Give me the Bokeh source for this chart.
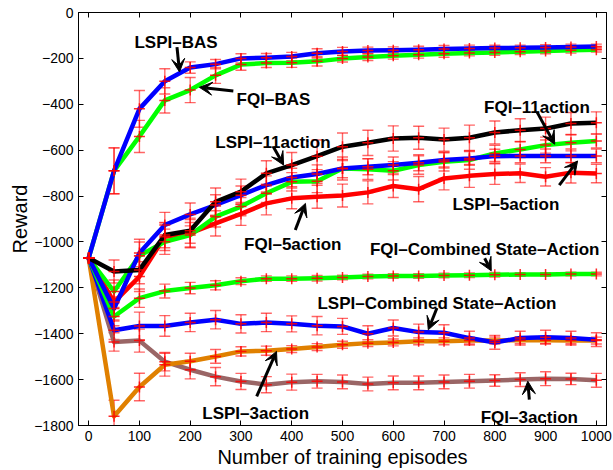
from bokeh.plotting import figure
from bokeh.models import (Range1d, FixedTicker, LinearAxis, Whisker, TeeHead,
                          ColumnDataSource, Label, Arrow, VeeHead)
from bokeh.embed import file_html
from bokeh.resources import INLINE

# ---------------- data ----------------
episodes = [0, 50, 100, 150, 200, 250, 300, 350, 400, 450, 500,
            550, 600, 650, 700, 750, 800, 850, 900, 950, 1000]

lspi_bas = [-1070, -690, -420, -300, -240, -225, -200, -197, -192, -178, -170,
            -166, -165, -162, -159, -157, -155, -154, -152, -150, -148]
lspi_bas_err = [0, 100, 80, 55, 25, 20, 20, 18, 18, 20, 18,
                15, 15, 15, 15, 15, 12, 12, 12, 12, 10]

fqi_bas = [-1070, -690, -540, -383, -338, -274, -227, -220, -219, -213, -201,
           -194, -188, -184, -180, -177, -174, -171, -168, -165, -162]
fqi_bas_err = [0, 100, 70, 55, 55, 35, 25, 20, 20, 20, 15,
               15, 15, 15, 15, 12, 12, 12, 12, 12, 10]

lspi_11 = [-1070, -1129, -1122, -970, -951, -825, -781, -701, -665, -626, -585,
           -568, -549, -546, -554, -546, -523, -513, -506, -484, -481]
lspi_11_err = [0, 50, 60, 55, 55, 60, 55, 55, 55, 70, 60,
               55, 55, 50, 50, 55, 50, 50, 50, 48, 48]

fqi_11 = [-1070, -1216, -1060, -999, -970, -890, -846, -788, -738, -735, -680,
          -683, -690, -665, -651, -643, -614, -597, -578, -568, -560]
fqi_11_err = [0, 50, 60, 55, 55, 45, 40, 40, 40, 50, 50,
              45, 40, 40, 40, 40, 35, 35, 35, 35, 30]

lspi_5 = [-1070, -1290, -1048, -926, -880, -839, -796, -752, -719, -704, -680,
          -672, -665, -655, -643, -636, -626, -625, -625, -625, -625]
lspi_5_err = [0, 50, 60, 55, 50, 45, 40, 40, 40, 40, 40,
              35, 35, 35, 35, 30, 30, 30, 30, 30, 30]

fqi_5 = [-1070, -1262, -1151, -977, -962, -919, -878, -832, -810, -803, -798,
         -784, -756, -770, -723, -712, -704, -701, -716, -698, -702]
fqi_5_err = [0, 60, 65, 60, 60, 55, 50, 50, 45, 50, 50,
             50, 50, 55, 50, 50, 45, 40, 40, 45, 40]

fqi_comb = [-1070, -1325, -1245, -1214, -1201, -1189, -1171, -1160, -1160, -1158, -1155,
            -1151, -1148, -1148, -1146, -1145, -1143, -1142, -1142, -1140, -1140]
fqi_comb_err = [0, 40, 40, 30, 25, 20, 15, 12, 12, 12, 10,
                10, 10, 10, 10, 10, 10, 8, 8, 8, 8]

lspi_comb = [-1070, -1385, -1366, -1366, -1351, -1339, -1357, -1351, -1357, -1365, -1368,
             -1400, -1375, -1393, -1396, -1419, -1438, -1419, -1415, -1419, -1426]
lspi_comb_err = [0, 40, 60, 45, 40, 40, 40, 40, 35, 40, 35,
                 35, 35, 35, 35, 30, 30, 30, 30, 30, 30]

lspi_3 = [-1070, -1760, -1632, -1535, -1520, -1499, -1477, -1474, -1467, -1458, -1448,
          -1441, -1438, -1433, -1433, -1430, -1430, -1428, -1428, -1429, -1430]
lspi_3_err = [0, 70, 60, 50, 35, 30, 20, 20, 15, 15, 15,
              15, 15, 15, 15, 15, 15, 15, 15, 15, 15]

fqi_3 = [-1070, -1436, -1430, -1522, -1557, -1587, -1608, -1622, -1611, -1607, -1610,
         -1619, -1614, -1614, -1610, -1607, -1604, -1600, -1596, -1597, -1603]
fqi_3_err = [0, 40, 50, 40, 40, 40, 35, 35, 35, 30, 30,
             30, 30, 30, 30, 30, 25, 30, 30, 25, 30]

x_ticks = [0, 100, 200, 300, 400, 500, 600, 700, 800, 900, 1000]
x_tick_labels = ["0", "100", "200", "300", "400", "500", "600", "700", "800", "900", "1000"]
y_ticks = [-1800, -1600, -1400, -1200, -1000, -800, -600, -400, -200, 0]
y_tick_labels = ["\u22121800", "\u22121600", "\u22121400", "\u22121200", "\u22121000",
                 "\u2212800", "\u2212600", "\u2212400", "\u2212200", "0"]

x_label = "Number of training episodes"
y_label = "Reward"

# series: (values, errors, colour)
series = [
    (fqi_3, fqi_3_err, "#9a6666"),
    (lspi_3, lspi_3_err, "#e08000"),
    (lspi_comb, lspi_comb_err, "#0000ff"),
    (fqi_comb, fqi_comb_err, "#00ff00"),
    (fqi_5, fqi_5_err, "#ff0000"),
    (fqi_11, fqi_11_err, "#00ff00"),
    (lspi_5, lspi_5_err, "#0000ff"),
    (lspi_11, lspi_11_err, "#000000"),
    (fqi_bas, fqi_bas_err, "#00ff00"),
    (lspi_bas, lspi_bas_err, "#0000ff"),
]

# annotations: text, text x, text baseline y, arrow start x/y, arrow end x/y
annotations = [
    ("LSPI\u2013BAS", 172, -130, 174, -151, 179, -259),
    ("FQI\u2013BAS", 364, -378, 285, -342, 218, -326),
    ("LSPI\u201311action", 363, -565, 364, -586, 384, -665),
    ("FQI\u201311action", 883, -412, 883, -433, 918, -574),
    ("LSPI\u20135action", 822, -835, 927, -752, 963, -647),
    ("FQI\u20135action", 402, -1013, 407, -948, 427, -832),
    ("FQI\u2013Combined State\u2013Action", 780, -1035, 780, -1071, 793, -1126),
    ("LSPI\u2013Combined State\u2013Action", 686, -1270, 686, -1288, 669, -1383),
    ("LSPI\u20133action", 329, -1748, 331, -1673, 370, -1477),
    ("FQI\u20133action", 868, -1767, 868, -1687, 865, -1607),
]

FONT = "Liberation Sans"

# ---------------- figure ----------------
p = figure(width=613, height=470, output_backend="svg", toolbar_location=None,
           x_range=Range1d(-20, 1020), y_range=Range1d(-1800, 0),
           min_border_left=78, min_border_right=7, min_border_top=12,
           min_border_bottom=44)
p.grid.visible = False
p.outline_line_color = "black"
p.outline_line_width = 1
p.background_fill_color = "white"
p.border_fill_color = "white"


def style_axis(ax, ticks, labels, show_labels=True):
    ax.ticker = FixedTicker(ticks=ticks)
    ax.major_label_overrides = {t: l for t, l in zip(ticks, labels)}
    ax.major_tick_in = 5
    ax.major_tick_out = 0
    ax.minor_tick_in = 0
    ax.minor_tick_out = 0
    ax.axis_line_color = "black"
    ax.major_tick_line_color = "black"
    ax.major_label_text_font = FONT
    ax.major_label_text_color = "black"
    if show_labels:
        ax.major_label_text_font_size = "14px"
        ax.major_label_standoff = 5
    else:
        ax.major_label_text_font_size = "0px"
        ax.major_label_standoff = 0


style_axis(p.xaxis[0], x_ticks, x_tick_labels)
style_axis(p.yaxis[0], y_ticks, y_tick_labels)
p.xaxis[0].axis_label = x_label
p.yaxis[0].axis_label = y_label
for ax in (p.xaxis[0], p.yaxis[0]):
    ax.axis_label_text_font = FONT
    ax.axis_label_text_font_size = "20px"
    ax.axis_label_text_font_style = "normal"
    ax.axis_label_text_color = "black"
p.xaxis[0].axis_label_standoff = 2
p.yaxis[0].axis_label_standoff = 0

top_ax = LinearAxis()
style_axis(top_ax, x_ticks, ["" for _ in x_ticks], show_labels=False)
p.add_layout(top_ax, "above")
right_ax = LinearAxis()
style_axis(right_ax, y_ticks, ["" for _ in y_ticks], show_labels=False)
p.add_layout(right_ax, "right")

# lines
for vals, errs, col in series:
    p.line(episodes, vals, line_color=col, line_width=4.5, line_join="round")

# error bars and centre markers
for vals, errs, col in series:
    src = ColumnDataSource(dict(
        x=episodes,
        upper=[v + e for v, e in zip(vals, errs)],
        lower=[v - e for v, e in zip(vals, errs)],
    ))
    head_u = TeeHead(size=11, line_color="red", line_alpha=0.6, line_width=1.4)
    head_l = TeeHead(size=11, line_color="red", line_alpha=0.6, line_width=1.4)
    w = Whisker(source=src, base="x", upper="upper", lower="lower",
                dimension="height", line_color="red", line_alpha=0.6,
                line_width=1.4, upper_head=head_u, lower_head=head_l)
    p.add_layout(w)
    p.scatter(episodes, vals, marker="cross", size=11, line_color="red",
              line_width=1.5, line_alpha=0.85)

# annotations
for txt, tx, ty, ax0, ay0, ax1, ay1 in annotations:
    p.add_layout(Arrow(end=VeeHead(size=13, fill_color="black", line_color="black"),
                       x_start=ax0, y_start=ay0, x_end=ax1, y_end=ay1,
                       line_color="black", line_width=3))
    p.add_layout(Label(x=tx, y=ty, text=txt, text_align="center",
                       text_baseline="alphabetic", text_font=FONT,
                       text_font_size="17px", text_font_style="bold",
                       text_color="black"))

open("out.html", "w").write(file_html(p, INLINE))
